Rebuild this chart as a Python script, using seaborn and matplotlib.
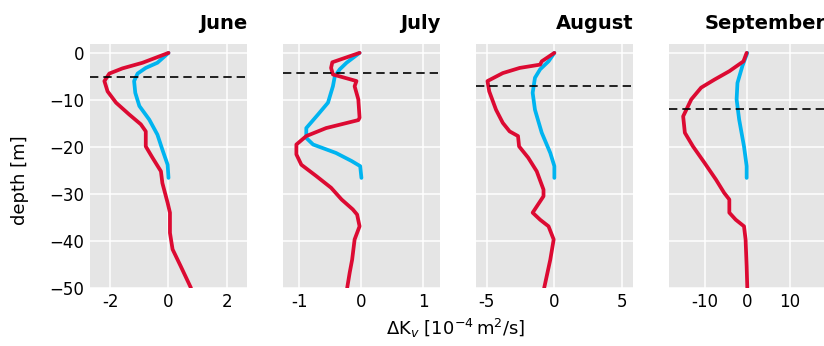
import matplotlib
matplotlib.use("Agg")
import matplotlib.pyplot as plt
import numpy as np
import pandas as pd
import seaborn as sns


MONTHS = ["June", "July", "August", "September"]

# mixed-layer depth per month [m]
MLD = [-5.1, -4.2, -7.0, -12.0]

# x-limits and tick labels per month
XLIM = [2.7, 1.27, 5.8, 18.4]
XTICKS = [[-2, 0, 2], [-1, 0, 1], [-5, 0, 5], [-10, 0, 10]]
XTICKLABELS = [["-2", "0", "2"], ["-1", "0", "1"], ["-5", "0", "5"], ["-10", "0", "10"]]

# red profiles (full water column)
june_red_depth = [0, -2.1, -3.3, -4.4, -6.0, -8.2, -10.6, -13.1, -15.2, -16.7, -19.9, -22.3,
                  -25.2, -27.7, -31.9, -34.0, -38.3, -41.8, -45.4, -50.0]
june_red_dkv = [0, -0.89, -1.58, -2.03, -2.2, -2.09, -1.8, -1.35, -0.95, -0.78, -0.78, -0.55,
                -0.26, -0.21, -0.03, 0.05, 0.05, 0.14, 0.42, 0.77]

july_red_depth = [0, -2.0, -3.2, -4.6, -5.7, -6.0, -7.1, -9.9, -13.8, -14.3, -16.0, -17.7, -19.5,
                  -21.6, -23.8, -26.2, -28.7, -31.2, -33.3, -34.4, -36.9, -39.7, -44.0, -46.8, -50.0]
july_red_dkv = [-0.03, -0.47, -0.49, -0.46, -0.16, -0.08, -0.11, -0.05, -0.03, -0.05, -0.57, -0.89,
                -1.05, -1.05, -0.97, -0.73, -0.49, -0.32, -0.14, -0.07, -0.03, -0.11, -0.15, -0.19, -0.23]

aug_red_depth = [0, -1.8, -2.5, -3.2, -4.3, -6.0, -8.2, -12.1, -14.9, -16.7, -17.7, -19.9, -22.3,
                 -25.2, -29.1, -30.5, -34.0, -35.5, -36.9, -39.7, -44.0, -50.0]
aug_red_dkv = [0, -0.93, -1.05, -2.55, -3.8, -4.93, -4.8, -4.3, -3.8, -3.3, -2.68, -2.6, -1.93,
               -1.3, -0.8, -0.8, -1.6, -1.05, -0.43, -0.05, -0.3, -0.75]

sep_red_depth = [0, -1.8, -3.9, -5.7, -7.4, -9.9, -13.5, -17.0, -19.9, -23.4, -27.0, -29.8, -31.2,
                 -34.0, -35.5, -36.9, -39.7, -45.4, -50.0]
sep_red_dkv = [-0.15, -0.9, -4.2, -7.7, -10.8, -13.1, -15.0, -14.6, -12.7, -10.0, -7.3, -5.4, -4.2,
               -4.2, -2.7, -0.77, -0.4, -0.15, 0.0]

# blue profiles (upper 26 m)
june_blue_depth = [0, -2.1, -3.2, -4.4, -6.0, -8.5, -11.3, -14.2, -17.4, -20.6, -23.8, -26.6]
june_blue_dkv = [0, -0.38, -0.78, -1.06, -1.18, -1.14, -1.0, -0.66, -0.38, -0.21, -0.03, 0.0]

july_blue_depth = [0, -2.1, -3.5, -5.0, -7.1, -10.6, -13.1, -16.0, -18.1, -19.5, -21.3, -23.0, -24.1, -26.6]
july_blue_dkv = [-0.03, -0.24, -0.35, -0.43, -0.46, -0.54, -0.7, -0.89, -0.89, -0.78, -0.41, -0.16, -0.02, 0.0]

aug_blue_depth = [0, -1.8, -3.5, -5.3, -8.5, -12.1, -17.0, -21.3, -24.1, -26.6]
aug_blue_dkv = [0, -0.43, -1.05, -1.43, -1.6, -1.43, -0.93, -0.3, 0.0, 0.0]

sep_blue_depth = [0, -2.8, -6.4, -9.9, -14.2, -19.9, -24.1, -26.6]
sep_blue_dkv = [0, -1.15, -2.3, -2.5, -1.9, -0.77, -0.15, -0.15]

RED = "#dc0a32"
BLUE = "#00b4f0"


def main() -> None:
    sns.set_theme(style="darkgrid", rc={
        "axes.facecolor": "#e5e5e5",
        "grid.color": "white",
        "grid.linewidth": 1.1,
        "xtick.labelsize": 12,
        "ytick.labelsize": 12,
        "text.color": "black",
        "axes.labelcolor": "black",
        "xtick.color": "black",
        "ytick.color": "black",
    })
    plt.rcParams["font.family"] = ["DejaVu Sans"]

    red = [(june_red_depth, june_red_dkv), (july_red_depth, july_red_dkv),
           (aug_red_depth, aug_red_dkv), (sep_red_depth, sep_red_dkv)]
    blue = [(june_blue_depth, june_blue_dkv), (july_blue_depth, july_blue_dkv),
            (aug_blue_depth, aug_blue_dkv), (sep_blue_depth, sep_blue_dkv)]

    fig, axes = plt.subplots(1, 4, figsize=(8.24, 3.46), dpi=100, sharey=True)
    fig.subplots_adjust(left=0.109, right=1.0024, top=0.873, bottom=0.168, wspace=0.226)

    for i, ax in enumerate(axes):
        d_b, v_b = blue[i]
        d_r, v_r = red[i]
        sns.lineplot(x=v_b, y=d_b, sort=False, estimator=None, color=BLUE, lw=2.7, ax=ax)
        sns.lineplot(x=v_r, y=d_r, sort=False, estimator=None, color=RED, lw=2.7, ax=ax)
        ax.axhline(MLD[i], color="black", ls=(0, (5, 3)), lw=1.2)

        ax.set_xlim(-XLIM[i], XLIM[i])
        ax.set_xticks(XTICKS[i])
        ax.set_xticklabels(XTICKLABELS[i])
        # September's title runs past the right edge, as in the source figure
        ax.set_title(MONTHS[i], loc="right", fontweight="bold", fontsize=14, pad=11,
                     color="black")
        ax.tick_params(length=0, pad=4)
        for s in ax.spines.values():
            s.set_visible(False)

    axes[0].set_ylim(-50, 1.9)
    axes[0].set_yticks([0, -10, -20, -30, -40, -50])

    fig.text(0.024, 0.48, "depth [m]", rotation=90, ha="center", va="center", fontsize=13)
    fig.text(0.553, 0.052, r"$\Delta$K$_v$ [10$^{-4}\,$m$^2$/s]", ha="center", va="center",
             fontsize=13)

    fig.savefig("out.png", dpi=100)
    plt.close(fig)


if __name__ == "__main__":
    main()
